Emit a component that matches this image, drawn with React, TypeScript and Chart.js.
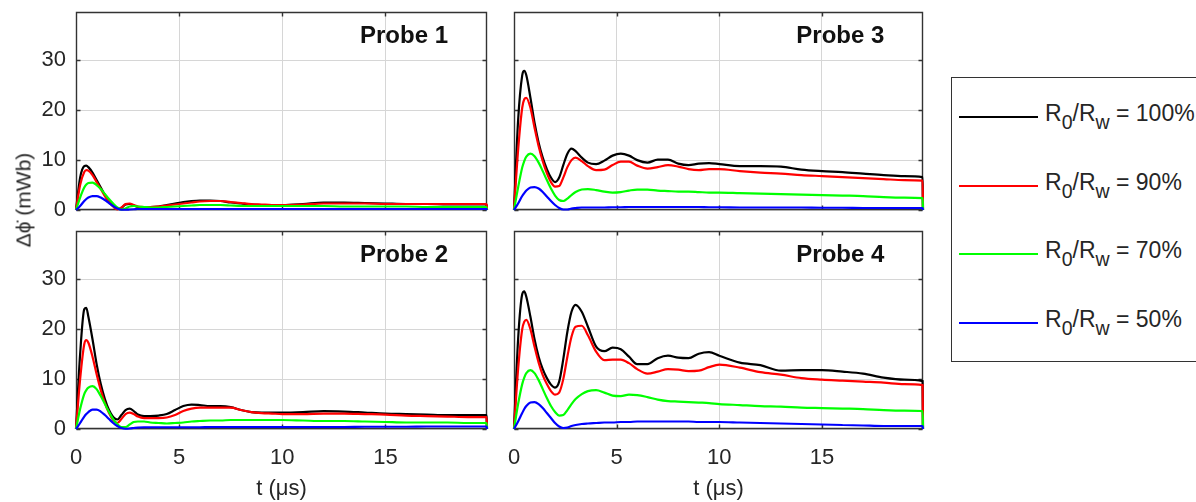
import React, { useEffect, useRef } from "react";
import { Chart, registerables } from "chart.js";

Chart.register(...registerables);

// Time base (µs) shared by every trace
const T = [
  0, 0.2, 0.4, 0.5, 0.6, 0.8, 1.0, 1.2, 1.4, 1.6,
  1.8, 2.0, 2.2, 2.4, 2.6, 2.8, 3.0, 3.3, 3.6, 4.0,
  4.4, 4.8, 5.2, 5.6, 6.0, 6.5, 7.0, 7.5, 8.0, 8.5,
  9.0, 9.5, 10, 11, 12, 13, 14, 15, 16, 17,
  18, 19, 19.9, 19.92,
];

// Probe 1 (mWb)
const P1_R100 = [0, 6.5, 8.8, 8.9, 8.6, 7.5, 6.0, 4.5, 3.0, 1.8, 0.8, 0.2, 0.4, 1.1, 1.2, 0.9, 0.6, 0.6, 0.6, 0.7, 1.0, 1.3, 1.6, 1.8, 1.9, 1.9, 1.8, 1.5, 1.3, 1.1, 1.0, 1.0, 1.0, 1.2, 1.5, 1.5, 1.4, 1.3, 1.2, 1.2, 1.1, 1.1, 1.1, 0];
const P1_R90 = [0, 5.0, 7.6, 8.0, 7.9, 7.0, 5.6, 4.2, 2.8, 1.6, 0.7, 0.1, 0.5, 1.2, 1.3, 1.0, 0.7, 0.6, 0.6, 0.7, 0.9, 1.1, 1.3, 1.5, 1.7, 1.8, 1.8, 1.6, 1.4, 1.2, 1.1, 1.0, 1.0, 1.1, 1.3, 1.3, 1.3, 1.2, 1.2, 1.2, 1.2, 1.2, 1.2, 0];
const P1_R70 = [0, 2.5, 4.5, 5.1, 5.4, 5.5, 5.0, 4.2, 3.2, 2.2, 1.3, 0.5, 0.1, 0.3, 0.7, 0.8, 0.7, 0.6, 0.5, 0.5, 0.6, 0.7, 0.8, 0.9, 1.0, 1.0, 1.0, 0.9, 0.8, 0.8, 0.8, 0.8, 0.8, 0.8, 0.8, 0.7, 0.7, 0.7, 0.7, 0.6, 0.6, 0.6, 0.6, 0];
const P1_R50 = [0, 0.8, 1.8, 2.2, 2.5, 2.8, 2.8, 2.5, 2.0, 1.4, 0.8, 0.3, 0.05, 0.05, 0.1, 0.15, 0.2, 0.2, 0.2, 0.2, 0.2, 0.2, 0.2, 0.2, 0.2, 0.2, 0.2, 0.2, 0.2, 0.2, 0.2, 0.2, 0.2, 0.2, 0.2, 0.2, 0.2, 0.2, 0.2, 0.2, 0.2, 0.2, 0.2, 0];

// Probe 2 (mWb)
const P2_R100 = [0, 15, 24, 24.3, 22.5, 18, 13, 9, 6, 3.8, 2.4, 1.9, 2.8, 3.8, 4.1, 3.6, 2.9, 2.6, 2.6, 2.7, 3.0, 3.8, 4.6, 4.9, 4.8, 4.6, 4.6, 4.4, 3.8, 3.4, 3.3, 3.3, 3.3, 3.4, 3.6, 3.5, 3.3, 3.1, 3.0, 2.9, 2.8, 2.8, 2.8, 0];
const P2_R90 = [0, 10, 17, 17.8, 17.3, 14.5, 11, 7.8, 5.2, 3.2, 1.8, 1.2, 2.0, 3.0, 3.3, 3.0, 2.5, 2.2, 2.2, 2.2, 2.3, 2.8, 3.6, 4.1, 4.3, 4.3, 4.3, 4.3, 3.8, 3.4, 3.2, 3.1, 3.0, 3.0, 3.1, 3.1, 3.0, 2.9, 2.7, 2.6, 2.5, 2.4, 2.4, 0];
const P2_R70 = [0, 4, 7, 7.8, 8.3, 8.6, 8.0, 6.6, 5.0, 3.4, 2.0, 1.0, 0.4, 0.4, 0.9, 1.4, 1.5, 1.5, 1.3, 1.2, 1.1, 1.2, 1.3, 1.5, 1.6, 1.7, 1.7, 1.8, 1.8, 1.8, 1.8, 1.8, 1.8, 1.7, 1.6, 1.6, 1.5, 1.4, 1.3, 1.3, 1.3, 1.2, 1.2, 0];
const P2_R50 = [0, 1.2, 2.5, 3.0, 3.4, 3.9, 3.9, 3.5, 2.8, 2.0, 1.2, 0.6, 0.2, 0.05, 0.1, 0.2, 0.3, 0.35, 0.35, 0.35, 0.35, 0.35, 0.35, 0.35, 0.35, 0.4, 0.4, 0.4, 0.4, 0.4, 0.4, 0.4, 0.4, 0.4, 0.4, 0.4, 0.45, 0.45, 0.45, 0.5, 0.5, 0.5, 0.5, 0];

// Probe 3 (mWb)
const P3_R100 = [0, 18, 27, 27.9, 27, 22.5, 17.5, 13.5, 10.5, 8.2, 6.5, 5.6, 6.5, 9.0, 11.3, 12.3, 11.8, 10.5, 9.5, 9.2, 9.9, 10.9, 11.3, 10.9, 10.0, 9.5, 10.1, 10.1, 9.3, 9.0, 9.3, 9.4, 9.2, 8.8, 8.8, 8.7, 8.1, 7.8, 7.6, 7.3, 7.0, 6.8, 6.6, 0];
const P3_R90 = [0, 12, 20.5, 22.2, 22.5, 20.5, 16.5, 12.8, 9.8, 7.4, 5.6, 4.7, 4.8, 6.5, 8.6, 10.0, 10.5, 9.8, 8.8, 8.0, 8.1, 9.0, 9.7, 9.7, 8.9, 8.3, 8.6, 9.0, 8.7, 8.2, 8.0, 8.2, 8.2, 7.8, 7.5, 7.3, 7.0, 6.8, 6.6, 6.4, 6.2, 6.0, 5.9, 0];
const P3_R70 = [0, 4.5, 8.5, 9.8, 10.7, 11.3, 10.8, 9.5, 7.8, 6.0, 4.3, 2.9, 2.0, 1.8, 2.3, 3.0, 3.6, 4.1, 4.2, 4.0, 3.7, 3.5, 3.6, 3.9, 4.1, 4.1, 3.9, 3.8, 3.7, 3.7, 3.6, 3.5, 3.5, 3.4, 3.3, 3.2, 3.1, 3.0, 2.9, 2.8, 2.6, 2.5, 2.4, 0];
const P3_R50 = [0, 1.3, 2.8, 3.4, 3.9, 4.5, 4.6, 4.3, 3.6, 2.7, 1.8, 1.0, 0.4, 0.1, 0.1, 0.3, 0.4, 0.5, 0.5, 0.5, 0.5, 0.55, 0.55, 0.6, 0.6, 0.6, 0.6, 0.6, 0.6, 0.6, 0.6, 0.55, 0.55, 0.5, 0.5, 0.5, 0.5, 0.45, 0.45, 0.4, 0.4, 0.4, 0.4, 0];

// Probe 4 (mWb)
const P4_R100 = [0, 18, 27, 27.6, 26.5, 22.5, 18, 14.5, 12, 10.2, 8.9, 8.3, 9.5, 14, 19.5, 23.5, 24.9, 23.5, 20.5, 16.5, 15.6, 16.3, 16.0, 14.5, 13.0, 13.0, 14.2, 14.7, 14.3, 14.2, 15.1, 15.4, 14.7, 13.3, 12.8, 11.7, 11.8, 11.8, 11.5, 11.1, 10.3, 9.9, 9.6, 0];
const P4_R90 = [0, 12, 20, 21.5, 21.9, 20, 16.5, 13.3, 10.8, 9.0, 7.6, 6.9, 7.3, 10, 14.5, 18.5, 20.5, 20.7, 18.8, 15.5, 13.8, 13.9, 13.9, 13.2, 12.0, 11.1, 11.5, 12.0, 11.9, 11.6, 11.7, 12.4, 12.9, 12.3, 11.4, 10.9, 10.2, 9.9, 9.7, 9.5, 9.3, 9.0, 8.8, 0];
const P4_R70 = [0, 5, 9, 10.3, 11.2, 11.8, 11.2, 9.8, 8.0, 6.2, 4.6, 3.4, 2.7, 2.8, 3.8, 5.0, 6.0, 7.0, 7.6, 7.8, 7.3, 6.7, 6.6, 6.9, 6.8, 6.4, 5.9, 5.6, 5.5, 5.4, 5.3, 5.2, 5.0, 4.8, 4.6, 4.5, 4.3, 4.2, 4.1, 4.0, 3.8, 3.7, 3.6, 0];
const P4_R50 = [0, 1.5, 3.2, 4.0, 4.6, 5.3, 5.4, 5.0, 4.2, 3.2, 2.2, 1.2, 0.5, 0.2, 0.3, 0.6, 0.8, 1.0, 1.1, 1.2, 1.3, 1.3, 1.4, 1.4, 1.5, 1.5, 1.5, 1.5, 1.5, 1.5, 1.4, 1.4, 1.4, 1.3, 1.2, 1.1, 1.0, 0.9, 0.8, 0.7, 0.6, 0.6, 0.6, 0];

const RATIO_LABELS = ["100%", "90%", "70%", "50%"];
const RATIO_COLORS = ["#000000", "#ff0000", "#00ff00", "#0000ff"];
const PROBE_TITLES = ["Probe 1", "Probe 2", "Probe 3", "Probe 4"];
const X_TICKS = [0, 5, 10, 15];
const Y_TICKS = [0, 10, 20, 30];
const X_MAX = 19.92;
const Y_MAX = 39.7;

const PROBE_SERIES = [
  [P1_R100, P1_R90, P1_R70, P1_R50],
  [P2_R100, P2_R90, P2_R70, P2_R50],
  [P3_R100, P3_R90, P3_R70, P3_R50],
  [P4_R100, P4_R90, P4_R70, P4_R50],
];

const FONT = "'Liberation Sans', Arial, Helvetica, sans-serif";
const AXIS_COLOR = "#262626";
const GRID_COLOR = "#d6d6d6";

type PanelCfg = {
  probe: number;
  x: number;
  y: number;
  w: number;
  h: number;
  area: { l: number; t: number; r: number; b: number };
  showX: boolean;
  showY: boolean;
};

// subplot grid: 2 rows x 2 columns
const PANELS: PanelCfg[] = [
  { probe: 0, x: 0, y: 0, w: 500, h: 220, area: { l: 76, t: 12, r: 487, b: 210 }, showX: false, showY: true },
  { probe: 1, x: 0, y: 220, w: 500, h: 282, area: { l: 76, t: 11, r: 487, b: 209 }, showX: true, showY: true },
  { probe: 2, x: 500, y: 0, w: 440, h: 220, area: { l: 14, t: 12, r: 423, b: 210 }, showX: false, showY: false },
  { probe: 3, x: 500, y: 220, w: 440, h: 282, area: { l: 14, t: 11, r: 423, b: 209 }, showX: true, showY: false },
];

// Axes box with inward ticks and the probe name, drawn under the traces
const framePlugin = {
  id: "frame",
  beforeDatasetsDraw(chart: any, _args: any, opts: any) {
    const { ctx, chartArea, scales } = chart;
    const left = Math.round(chartArea.left) + 0.5;
    const right = Math.round(chartArea.right) - 0.5;
    const top = Math.round(chartArea.top) + 0.5;
    const bottom = Math.round(chartArea.bottom) - 0.5;
    const tick = 4;
    ctx.save();
    ctx.strokeStyle = "#333333";
    ctx.lineWidth = 1.4;
    ctx.beginPath();
    for (const v of X_TICKS) {
      const px = Math.round(scales.x.getPixelForValue(v)) + 0.5;
      ctx.moveTo(px, bottom);
      ctx.lineTo(px, bottom - tick);
      ctx.moveTo(px, top);
      ctx.lineTo(px, top + tick);
    }
    for (const v of Y_TICKS) {
      const py = Math.round(scales.y.getPixelForValue(v)) + 0.5;
      ctx.moveTo(left, py);
      ctx.lineTo(left + tick, py);
      ctx.moveTo(right, py);
      ctx.lineTo(right - tick, py);
    }
    ctx.rect(left, top, right - left, bottom - top);
    ctx.stroke();

    ctx.font = `bold 24px ${FONT}`;
    ctx.fillStyle = "#111111";
    ctx.textAlign = "center";
    ctx.textBaseline = "middle";
    ctx.fillText(opts.title, chartArea.left + 0.798 * (chartArea.right - chartArea.left), chartArea.top + 24);
    ctx.restore();
  },
};

function buildConfig(p: PanelCfg): any {
  const series = PROBE_SERIES[p.probe];
  const datasets = series.map((vals, i) => ({
    label: `R0/Rw = ${RATIO_LABELS[i]}`,
    data: T.map((t, j) => ({ x: t, y: vals[j] })),
    borderColor: RATIO_COLORS[i],
    backgroundColor: RATIO_COLORS[i],
    borderWidth: 2.2,
    pointRadius: 0,
    fill: false,
    cubicInterpolationMode: "monotone",
    clip: false,
    order: 3 - i,
  }));
  const xAxisH = p.h - p.area.b;
  const tickFont = { family: FONT, size: 22 };
  return {
    type: "line",
    data: { datasets },
    plugins: [framePlugin],
    options: {
      animation: false,
      responsive: false,
      events: [],
      layout: {
        autoPadding: false,
        padding: { left: 0, top: p.area.t, right: p.w - p.area.r, bottom: p.showX ? 0 : p.h - p.area.b },
      },
      plugins: {
        legend: { display: false },
        tooltip: { enabled: false },
        frame: { title: PROBE_TITLES[p.probe] },
      },
      scales: {
        x: {
          type: "linear",
          min: 0,
          max: X_MAX,
          bounds: "data",
          afterBuildTicks: (s: any) => {
            s.ticks = X_TICKS.map((v) => ({ value: v }));
          },
          afterFit: (s: any) => {
            s.height = p.showX ? xAxisH : 0;
            s.paddingLeft = 0;
            s.paddingRight = 0;
            s.paddingTop = 0;
            s.paddingBottom = 0;
          },
          grid: { color: GRID_COLOR, lineWidth: 1, drawTicks: false },
          border: { display: false },
          ticks: { display: p.showX, padding: 16, color: AXIS_COLOR, font: tickFont, maxRotation: 0 },
          title: {
            display: p.showX,
            text: "t (μs)",
            color: AXIS_COLOR,
            font: { family: FONT, size: 22 },
            padding: { top: 0, bottom: 0 },
          },
        },
        y: {
          type: "linear",
          min: 0,
          max: Y_MAX,
          bounds: "data",
          afterBuildTicks: (s: any) => {
            s.ticks = Y_TICKS.map((v) => ({ value: v }));
          },
          afterFit: (s: any) => {
            s.width = p.area.l;
            s.paddingLeft = 0;
            s.paddingRight = 0;
            s.paddingTop = 0;
            s.paddingBottom = 0;
          },
          grid: { color: GRID_COLOR, lineWidth: 1, drawTicks: false },
          border: { display: false },
          ticks: { display: p.showY, padding: 10, color: AXIS_COLOR, font: tickFont },
        },
      },
    },
  };
}

function Panel({ cfg }: { cfg: PanelCfg }) {
  const ref = useRef<HTMLCanvasElement>(null);
  useEffect(() => {
    const chart = new Chart(ref.current as HTMLCanvasElement, buildConfig(cfg));
    return () => chart.destroy();
  }, [cfg]);
  return (
    <canvas
      ref={ref}
      width={cfg.w}
      height={cfg.h}
      style={{ position: "absolute", left: cfg.x, top: cfg.y, width: cfg.w, height: cfg.h }}
    />
  );
}

const LEGEND_ROWS_Y = [117, 186, 254, 323];

function Legend() {
  const sub = { fontSize: "0.85em", verticalAlign: "-0.4em" } as React.CSSProperties;
  return (
    <>
      <div
        style={{
          position: "absolute",
          left: 951,
          top: 77,
          width: 270,
          height: 285,
          border: "1.5px solid #333333",
          boxSizing: "border-box",
          background: "#ffffff",
        }}
      />
      {RATIO_LABELS.map((lab, i) => (
        <React.Fragment key={lab}>
          <div
            style={{
              position: "absolute",
              left: 959,
              top: LEGEND_ROWS_Y[i] - 1,
              width: 79,
              height: 2,
              background: RATIO_COLORS[i],
            }}
          />
          <div
            style={{
              position: "absolute",
              left: 1045,
              top: LEGEND_ROWS_Y[i] - 15,
              fontSize: 23,
              lineHeight: "23px",
              whiteSpace: "nowrap",
              color: AXIS_COLOR,
            }}
          >
            R<span style={sub}>0</span>/R<span style={sub}>w</span> = {lab}
          </div>
        </React.Fragment>
      ))}
    </>
  );
}

export default function App() {
  return (
    <div
      style={{
        position: "absolute",
        left: 0,
        top: 0,
        width: 1196,
        height: 502,
        overflow: "hidden",
        background: "#ffffff",
        fontFamily: FONT,
      }}
    >
      {PANELS.map((p) => (
        <Panel key={p.probe} cfg={p} />
      ))}
      <div
        style={{
          position: "absolute",
          left: 23,
          top: 200,
          transform: "translate(-50%, -50%) rotate(-90deg)",
          whiteSpace: "nowrap",
          fontSize: 21,
          lineHeight: "21px",
          color: AXIS_COLOR,
        }}
      >
        Δϕ̇ (mWb)
      </div>
      <Legend />
    </div>
  );
}
